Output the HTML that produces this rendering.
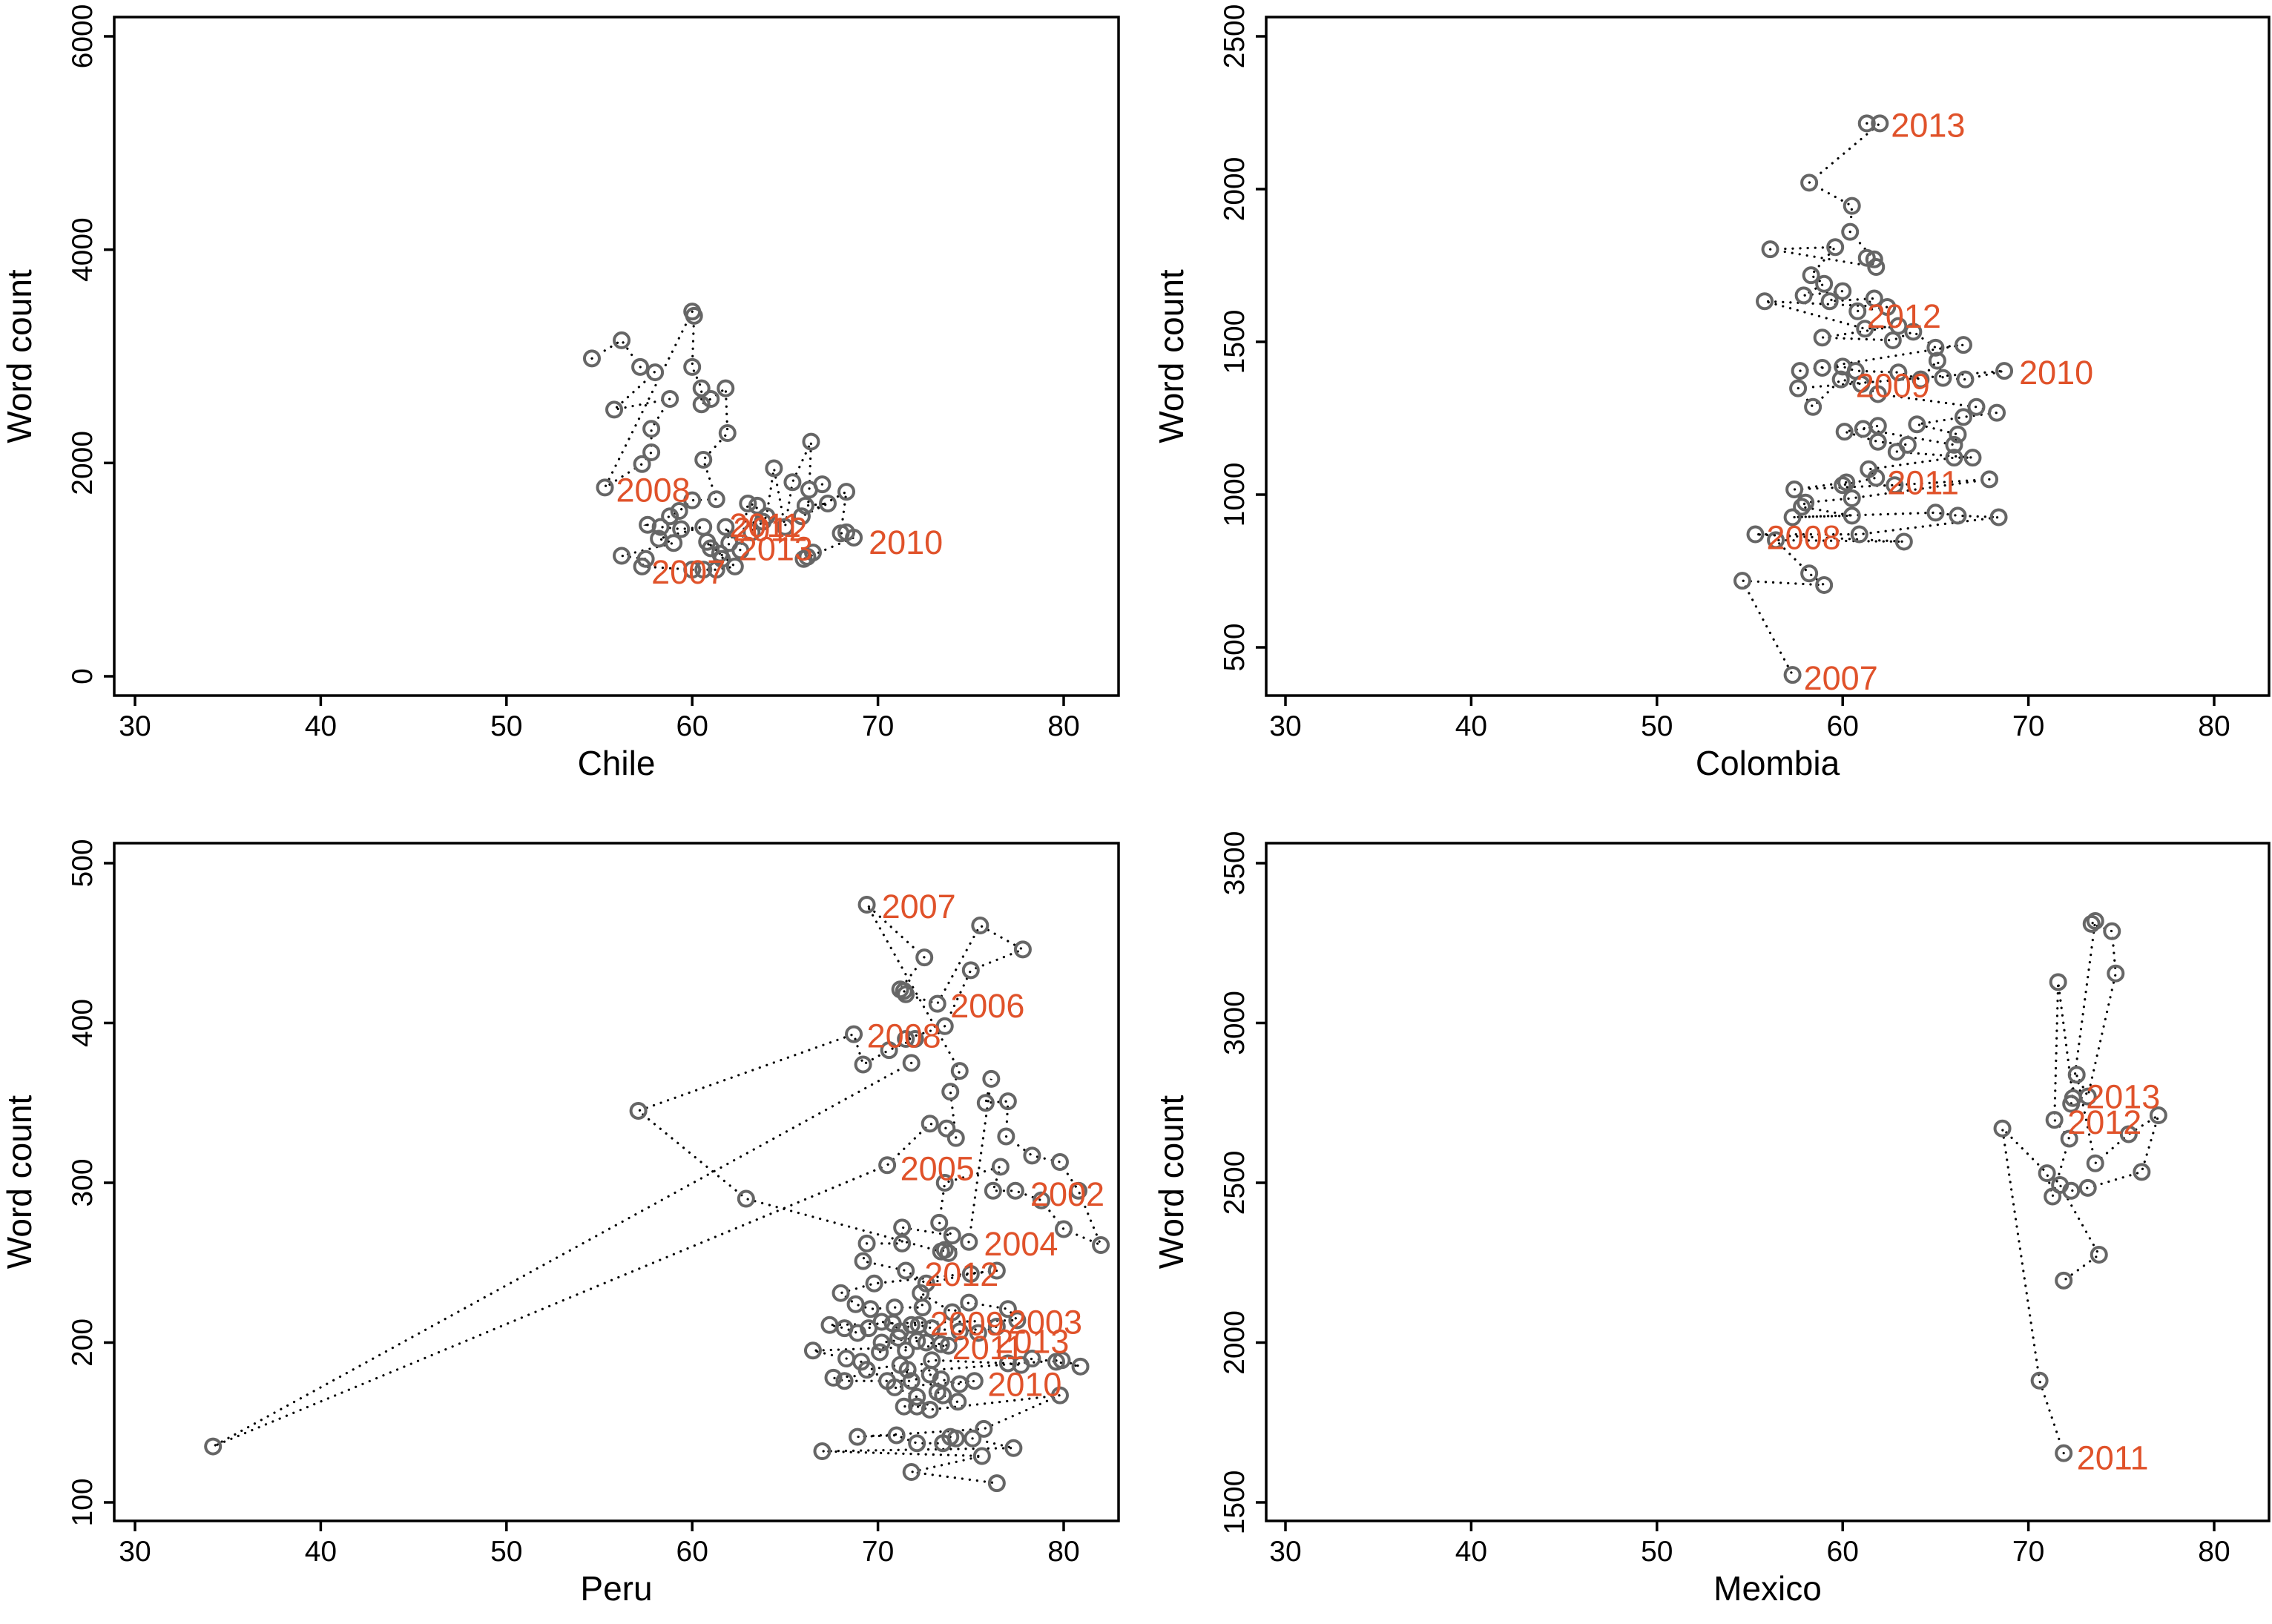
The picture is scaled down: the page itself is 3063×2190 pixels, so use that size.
<!DOCTYPE html>
<html><head><meta charset="utf-8"><style>
html,body{margin:0;padding:0;background:#fff}
svg{display:block}
text{font-family:"Liberation Sans",sans-serif}
</style></head><body>
<svg id="chart" width="3063" height="2190" viewBox="0 0 3063 2190" xmlns="http://www.w3.org/2000/svg"></svg>
<script>
const xTicks = [30,40,50,60,70,80];
const chileTicks = [0,2000,4000,6000];
const colombiaTicks = [500,1000,1500,2000,2500];
const peruTicks = [100,200,300,400,500];
const mexicoTicks = [1500,2000,2500,3000,3500];

const chileX = [54.6,56.2,57.2,58,55.8,58.8,57.8,57.8,57.3,55.3,60,60.1,60,60.5,60.5,61,61.8,61.9,60.6,61.3,60,59.3,58.8,57.6,58.3,59.4,60.6,58.2,59,56.2,57.5,57.3,60,60.6,61.3,62.3,60.8,61,61.5,61.6,62,61.8,62.6,63,63.5,63.2,63.8,64,64.4,65,65.4,66.4,66.3,67,66.1,67.3,65.9,68.3,68,68.3,68.7,66,66.2,66.5];
const chileY = [2980,3150,2900,2850,2500,2600,2320,2100,1990,1770,3420,3380,2900,2700,2550,2600,2700,2280,2030,1660,1650,1550,1500,1420,1400,1380,1400,1290,1250,1130,1100,1030,1000,1000,1000,1030,1260,1200,1150,1100,1250,1400,1180,1620,1600,1350,1450,1500,1950,1400,1820,2200,1750,1800,1600,1620,1500,1730,1340,1350,1300,1100,1120,1160];
const chileLabels = ["2008","2007","2010","2011","2012","2013"];
const chileLabX = [55.9,57.8,69.5,62,62.2,62.5];
const chileLabY = [1750,980,1260,1420,1380,1200];

const colombiaX = [61.3,62.0,58.2,60.5,60.4,61.7,61.3,61.8,56.1,59.6,58.3,59,57.9,60.0,59.3,61.7,60.8,62.4,55.8,61.2,63.0,58.9,62.7,63.8,65.0,66.5,57.7,58.9,60.0,60.7,63.0,64.2,65.1,65.4,66.6,68.7,57.6,58.4,59.9,61.0,61.9,67.2,68.3,66.5,64.0,66.2,66.0,61.1,61.9,60.1,61.9,63.5,62.9,67.0,66.0,61.4,61.8,60.0,60.2,57.4,62.8,67.9,60.5,58.0,57.8,60.5,57.3,65.0,66.2,68.4,60.9,55.3,63.3,56.4,58.2,59.0,54.6,57.3];
const colombiaY = [2215,2215,2021,1945,1860,1770,1775,1745,1803,1810,1718,1690,1652,1666,1633,1642,1600,1614,1633,1543,1552,1514,1505,1533,1481,1490,1405,1415,1419,1405,1400,1377,1438,1382,1377,1405,1348,1287,1377,1362,1329,1287,1268,1254,1230,1197,1163,1215,1225,1206,1173,1163,1140,1121,1121,1083,1055,1031,1040,1017,1031,1050,988,974,960,931,926,941,931,926,870,870,846,851,742,704,718,410];
const colombiaLabels = ["2013","2012","2010","2009","2011","2008","2007"];
const colombiaLabX = [62.6,61.3,69.5,60.7,62.4,55.9,57.9];
const colombiaLabY = [2210,1585,1400,1358,1040,860,400];

const peruX = [71.8,34.2,70.5,72.8,73.7,74.2,73.9,74.4,69.4,72.5,71.2,71.4,71.5,73.2,75.5,77.8,75.0,73.6,71.5,72,70.6,69.2,68.7,57.1,62.9,73.4,73.6,73.8,74.9,76.1,75.8,77,76.9,78.3,79.8,80.8,82,80,78.8,77.4,76.2,76.6,73.6,73.3,74,71.3,71.3,69.4,69.2,71.5,72.6,75,76.4,69.8,68,68.8,69.6,70.9,72.4,72.3,74,74.9,77,77.5,67.4,68.2,68.9,69.5,70.2,70.8,71.2,71.8,72.2,72.9,74.4,75.4,76.4,70.2,70.1,71.1,71.5,72.1,72.6,73.4,73.8,66.5,68.3,69.1,69.4,71.2,71.6,72.9,77,77.7,78.3,79.6,80.9,79.9,67.6,68.2,70.5,71.8,72.8,73.4,74.4,75.2,70.9,72.1,73.2,73.5,74.3,71.4,72.1,72.8,79.8,75.7,68.9,71,72.1,73.5,73.9,74.2,75.1,77.3,67,75.6,71.8,76.4];
const peruY = [375,135,311,337,334,328,357,370,474,441,421,420,418,412,461,446,433,398,390,390,383,374,393,345,290,257,258,256,263,365,350,351,329,317,313,295,261,271,289,295,295,310,300,275,267,272,262,262,251,245,237,243,245,237,231,224,221,222,222,231,219,225,221,214,211,209,206,209,213,212,207,211,211,209,207,206,210,200,194,203,195,201,200,199,198,195,190,188,183,186,183,189,187,186,190,188,185,189,178,176,176,176,180,177,174,176,172,166,169,167,163,160,160,158,167,146,141,142,137,137,141,140,140,134,132,129,119,112];
const peruLabels = ["2007","2006","2008","2005","2002","2004","2012","2009","2003","2013","2011","2010"];
const peruLabX = [70.2,73.9,69.4,71.2,78.2,75.7,72.5,72.8,77,76.3,74,75.9];
const peruLabY = [473,411,392,309,293,262,243,212,213,201,197,174];

const mexicoX = [71.9,70.6,68.6,71.0,71.3,72.2,71.4,71.6,72.4,72.3,73.6,73.4,74.5,74.7,73.2,72.6,73.6,75.4,77.0,76.1,73.2,72.3,71.7,73.8,71.9];
const mexicoY = [1654,1881,2670,2530,2457,2638,2697,3128,2765,2747,3319,3310,3287,3155,2770,2838,2561,2652,2711,2534,2484,2475,2493,2275,2194];
const mexicoLabels = ["2013","2012","2011"];
const mexicoLabX = [73.1,72.1,72.6];
const mexicoLabY = [2770,2690,1640];

const NS="http://www.w3.org/2000/svg";
const svg=document.getElementById('chart');
function mk(tag,parent,attrs){const e=document.createElementNS(NS,tag);for(const k in attrs)e.setAttribute(k,attrs[k]);parent.appendChild(e);return e;}

function panel(name,box,yMin,yMax,yTicks,xs,ys,labs,lx,ly){
  const g=mk('g',svg,{});
  
  
  const [L,R,T,B,x30,x80,yMinPx,yMaxPx]=box;
  const sx=v=>x30+(v-30)*(x80-x30)/50;
  const sy=v=>yMinPx+(v-yMin)*(yMaxPx-yMinPx)/(yMax-yMin);
  let d='';
  for(let i=0;i<xs.length;i++){d+=(i?'L':'M')+sx(xs[i]).toFixed(1)+' '+sy(ys[i]).toFixed(1);}
  const path=mk('path',g,{d:d,fill:'none',stroke:'#000','stroke-width':3.2,'stroke-dasharray':'0.1 10','stroke-linecap':'round'});
  
  
  for(let i=0;i<xs.length;i++){
    const c=mk('circle',g,{cx:sx(xs[i]),cy:sy(ys[i]),r:10,fill:'none',stroke:'#666','stroke-width':4});
    
    
  }
  for(let i=0;i<labs.length;i++){
    const t=mk('text',g,{x:sx(lx[i]),y:sy(ly[i])+16,'font-size':45,fill:'#e0522a'});
    t.textContent=labs[i];
    
    
  }
  const frame=mk('rect',g,{x:L,y:T,width:R-L,height:B-T,fill:'none',stroke:'#000','stroke-width':3.5});
  
  
  xTicks.forEach(v=>{
    const x=sx(v);
    mk('line',g,{x1:x,x2:x,y1:B,y2:B+14,stroke:'#000','stroke-width':3.5});
    const t=mk('text',g,{x:x,y:B+54,'font-size':39,'text-anchor':'middle'});
    t.textContent=v;
    
    
  });
  yTicks.forEach(v=>{
    const y=sy(v);
    mk('line',g,{x1:L,x2:L-14,y1:y,y2:y,stroke:'#000','stroke-width':3.5});
    const t=mk('text',g,{x:0,y:0,'font-size':39,'text-anchor':'middle',transform:`translate(${L-30},${y}) rotate(-90)`});
    t.textContent=v;
    
    
  });
  const xt=mk('text',g,{x:(L+R)/2,y:B+107,'font-size':46,'text-anchor':'middle'});
  xt.textContent=name.charAt(0).toUpperCase()+name.slice(1);
  
  
  const yt=mk('text',g,{x:0,y:0,'font-size':46,'text-anchor':'middle',transform:`translate(${L-112},${(T+B)/2}) rotate(-90)`});
  yt.textContent='Word count';
  
  
}
panel('chile',[154,1508,23,938,182,1434,912,49],0,6000,chileTicks,chileX,chileY,chileLabels,chileLabX,chileLabY);
panel('colombia',[1707,3059,23,938,1733,2985,873,49],500,2500,colombiaTicks,colombiaX,colombiaY,colombiaLabels,colombiaLabX,colombiaLabY);
panel('peru',[154,1508,1137,2051,182,1434,2026,1164],100,500,peruTicks,peruX,peruY,peruLabels,peruLabX,peruLabY);
panel('mexico',[1707,3059,1137,2051,1733,2985,2026,1164],1500,3500,mexicoTicks,mexicoX,mexicoY,mexicoLabels,mexicoLabX,mexicoLabY);
</script>
</body></html>
